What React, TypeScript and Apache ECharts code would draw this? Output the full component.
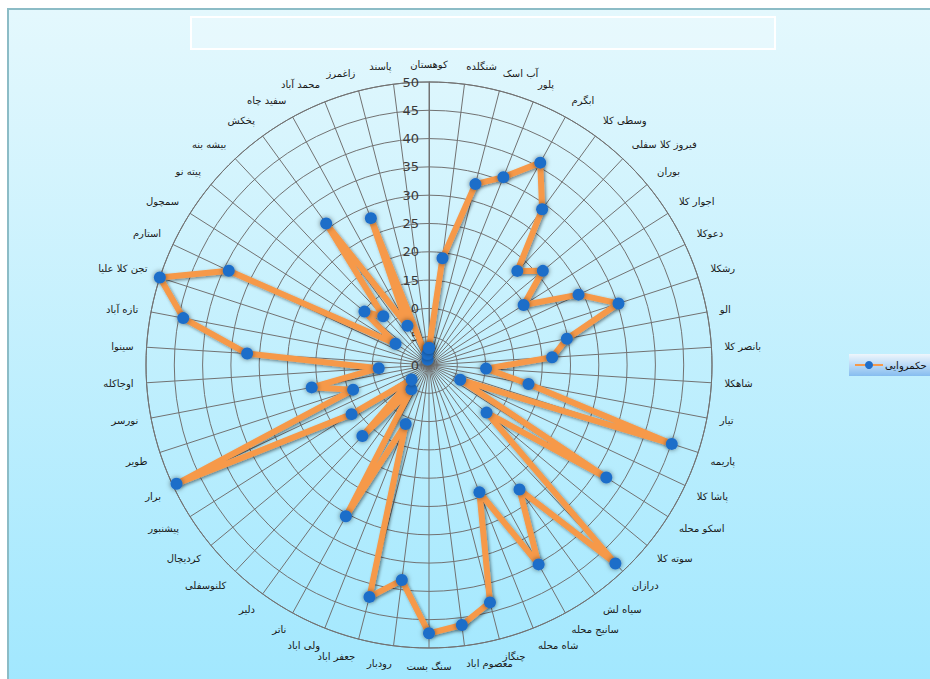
import React, { useEffect, useRef } from "react";
import * as echarts from "echarts";

const seriesName = "حکمروایی";

const categories = [
  "کوهستان", "شنگلده", "آب اسک", "پلور", "ابگرم", "وسطی کلا", "فیروز کلا سفلی", "بوران", "اجوار کلا", "دعوکلا",
  "رشکلا", "الو", "بانصر کلا", "شاهکلا", "تیار", "پاریمه", "پاشا کلا", "اسکو محله", "سوته کلا", "درازان",
  "سیاه لش", "سانیج محله", "شاه محله", "چنگاز", "معصوم اباد", "سنگ بست", "رودبار", "جعفر اباد", "ولی اباد", "ناتر",
  "دلیر", "کلنوسفلی", "کردیچال", "پیشنبور", "برار", "طویر", "نورسر", "اوجاکله", "سینوا", "تازه آباد",
  "تجن کلا علیا", "استارم", "سمچول", "پیته نو", "بیشه بنه", "پخکش", "سفید چاه", "محمد آباد", "زاغمرز", "پاسند",
];

const values = [
  3, 19, 33, 35.7, 40.8, 34, 22.8, 26.1, 19.8, 29.2,
  35.2, 24.8, 21.8, 10.1, 17.9, 45.1, 6.1, 37.1, 13.2, 48.1,
  27.2, 40.2, 24.2, 43.3, 46.3, 47.4, 38.3, 42.3, 11.2, 30.5,
  5.3, 17.2, 4.0, 16.2, 49.3, 14.1, 21.1, 8.9, 32.2, 44.2,
  50, 39.1, 7.0, 14.8, 11.8, 30.9, 7.9, 27.9, 1, 2,
];

const radiusMin = 0;
const radiusMax = 50;
const radiusStep = 5;

export default function App() {
  const ref = useRef<HTMLDivElement>(null);
  useEffect(() => {
    const chart = echarts.init(ref.current!, undefined, { renderer: "svg" });
    const n = categories.length;
    const data = values.map((v, i) => [v, i]);
    data.push([values[0], n]);
    const font = "DejaVu Sans";
    const labelSize = 10;

    // Excel-like label anchoring: near top/bottom, labels start at the
    // anchor (corner nearest the centre) instead of being centred on it.
    const ctx = document.createElement("canvas").getContext("2d")!;
    ctx.font = `${labelSize}px "${font}"`;
    const rich: Record<string, any> = {};
    categories.forEach((c, i) => {
      const s = Math.sin((i / n) * 2 * Math.PI);
      const w = Math.ceil(ctx.measureText(c).width);
      let padding: number[] = [0, 0, 0, 0];
      if (Math.abs(s) < 0.3 && Math.abs(s) > 0.01) {
        padding = s > 0 ? [0, 0, 0, w] : [0, w, 0, 0];
      }
      rich["p" + i] = { fontFamily: font, fontSize: labelSize, color: "#1a1a1a", padding };
    });

    chart.setOption({
      animation: false,
      backgroundColor: "#ffffff",
      textStyle: { fontFamily: font },
      graphic: [
        {
          type: "rect",
          z: -10,
          shape: { x: 8, y: 9, width: 940, height: 690 },
          style: {
            fill: new echarts.graphic.LinearGradient(0, 0, 0, 1, [
              { offset: 0, color: "#e4f8fd" },
              { offset: 1, color: "#a0e7fe" },
            ]),
            stroke: "#8cbcc6",
            lineWidth: 2,
          },
        },
        {
          type: "rect",
          z: -9,
          shape: { x: 191, y: 17, width: 584, height: 32 },
          style: { fill: "rgba(255,255,255,0.2)", stroke: "#ffffff", lineWidth: 2 },
        },
      ],
      legend: {
        data: [seriesName],
        left: 849,
        top: 354,
        itemWidth: 28,
        itemHeight: 10,
        itemGap: 4,
        padding: [6, 12, 6, 5],
        backgroundColor: new echarts.graphic.LinearGradient(0, 0, 0, 1, [
          { offset: 0, color: "#eef6fc" },
          { offset: 1, color: "#86bdf0" },
        ]),
        textStyle: { fontFamily: font, fontSize: 10, color: "#111111", padding: [0, 0, 0, -3] },
      },
      polar: { center: [429, 365], radius: 283 },
      angleAxis: {
        type: "value",
        min: 0,
        max: n,
        interval: 1,
        startAngle: 90,
        clockwise: true,
        axisLine: { show: true, lineStyle: { color: "#727272", width: 1 } },
        axisTick: { show: false },
        axisLabel: {
          margin: 13,
          fontSize: labelSize,
          color: "#1a1a1a",
          formatter: (v: number) => (v < n ? `{p${v}|${categories[v]}}` : ""),
          rich,
        },
        splitLine: { show: true, lineStyle: { color: "#727272", width: 1 } },
      },
      radiusAxis: {
        type: "value",
        min: radiusMin,
        max: radiusMax,
        interval: radiusStep,
        axisLine: { show: true, lineStyle: { color: "#727272", width: 1 } },
        axisTick: { show: false },
        axisLabel: {
          margin: 0,
          align: "right",
          padding: [0, 10, 0, 0],
          fontSize: 13,
          color: "#3a3a3a",
          fontFamily: font,
        },
        splitLine: { show: true, lineStyle: { color: "#727272", width: 1 } },
      },
      series: [
        {
          type: "line",
          name: seriesName,
          coordinateSystem: "polar",
          data,
          symbol: "circle",
          symbolSize: 12,
          lineStyle: {
            color: "#f6994a",
            width: 6,
            shadowColor: "rgba(0,0,0,0.45)",
            shadowBlur: 3,
            shadowOffsetX: 1.5,
            shadowOffsetY: 1.5,
          },
          itemStyle: {
            color: "#1f6ec9",
            shadowColor: "rgba(0,0,0,0.5)",
            shadowBlur: 5,
          },
        },
      ],
    });
    return () => chart.dispose();
  }, []);
  return (
    <div
      ref={ref}
      style={{ position: "fixed", left: 0, top: 0, width: 930, height: 679 }}
    />
  );
}
